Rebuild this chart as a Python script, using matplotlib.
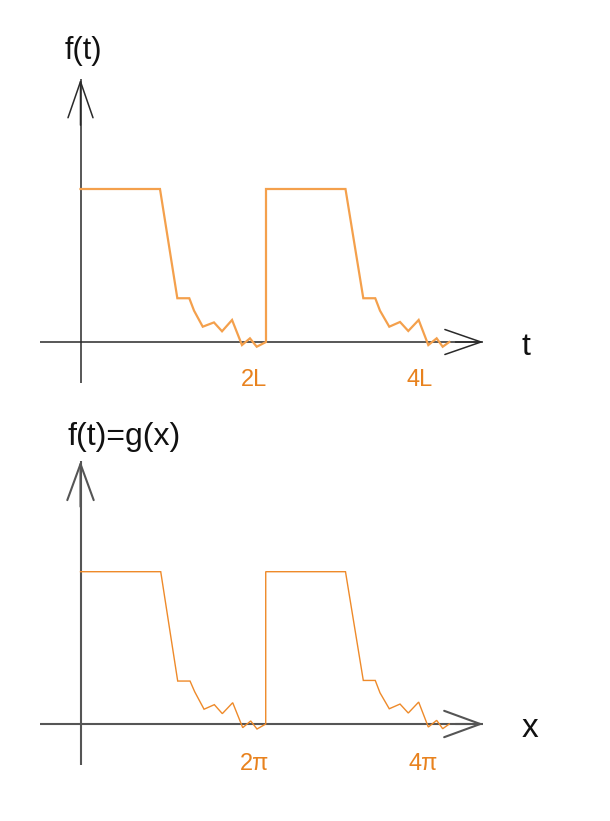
import matplotlib
matplotlib.use("Agg")
import matplotlib.pyplot as plt

# ---- data (x in units of L (top) / pi (bottom), y normalised to pulse height) ----
t_values = [0.0, 0.857, 1.044, 1.173, 1.224, 1.318, 1.439, 1.526, 1.634, 1.741,
            1.827, 1.900, 2.0, 2.0, 2.857, 3.049, 3.178, 3.229, 3.329, 3.445,
            3.534, 3.646, 3.750, 3.840, 3.905, 3.976]
f_values = [1.0, 1.0, 0.286, 0.286, 0.205, 0.100, 0.128, 0.070, 0.144, -0.020,
            0.024, -0.031, 0.0, 1.0, 1.0, 0.286, 0.286, 0.205, 0.100, 0.131,
            0.072, 0.144, -0.020, 0.024, -0.031, 0.0]

x_values = [0.0, 0.865, 1.048, 1.181, 1.231, 1.332, 1.443, 1.529, 1.641, 1.749,
            1.835, 1.903, 1.997, 1.997, 2.857, 3.049, 3.178, 3.229, 3.329, 3.445,
            3.534, 3.646, 3.750, 3.840, 3.905, 3.976]
g_values = [1.0, 1.0, 0.282, 0.282, 0.212, 0.097, 0.127, 0.068, 0.140, -0.024,
            0.020, -0.033, 0.0, 1.0, 1.0, 0.286, 0.286, 0.205, 0.100, 0.131,
            0.072, 0.144, -0.020, 0.024, -0.031, 0.0]

top_tick_pos = [1.87, 3.66]
top_tick_labels = ["2L", "4L"]
bot_tick_pos = [1.88, 3.69]
bot_tick_labels = ["2π", "4π"]

top_ylabel = "f(t)"
top_xlabel = "t"
bot_ylabel = "f(t)=g(x)"
bot_xlabel = "x"

plt.rcParams['font.family'] = ['Liberation Sans', 'DejaVu Sans']

W, H = 610, 821
fig = plt.figure(figsize=(W / 100, H / 100), dpi=100)

PX_X = 92.75   # pixels per x unit
X0 = 80.5      # pixel of x = 0
XLIM = (-X0 / PX_X, (W - X0) / PX_X)


def make_panel(y_top_px, y_bot_px, zero_px, px_y):
    ax = fig.add_axes([0, 1 - y_bot_px / H, 1, (y_bot_px - y_top_px) / H])
    ax.set_xlim(*XLIM)
    ax.set_ylim((zero_px - y_bot_px) / px_y, (zero_px - y_top_px) / px_y)
    ax.axis('off')
    return ax


def draw_axes(ax, color, lw, xmin, xmax, ymin, ymax, hl, hw):
    ax.plot([xmin, xmax], [0, 0], color=color, lw=lw, solid_capstyle='butt')
    ax.plot([0, 0], [ymin, ymax], color=color, lw=lw, solid_capstyle='butt')
    style = f"->,head_length={hl},head_width={hw}"
    ax.annotate("", xy=(xmax, 0), xytext=(xmax - 0.3, 0),
                arrowprops=dict(arrowstyle=style, color=color, lw=lw,
                                mutation_scale=1, shrinkA=0, shrinkB=0))
    ax.annotate("", xy=(0, ymax), xytext=(0, ymax - 0.3),
                arrowprops=dict(arrowstyle=style, color=color, lw=lw,
                                mutation_scale=1, shrinkA=0, shrinkB=0))


# ---------------- top panel ----------------
ax1 = make_panel(0, 410, 342, 153)
draw_axes(ax1, '#2a2a2a', 1.1, -0.437, 4.343, -0.268, 1.717, 26, 9)
ax1.plot(t_values, f_values, color='#F4A04C', lw=1.6, solid_joinstyle='miter')
ax1.text(0.027, 1.90, top_ylabel, fontsize=22, ha='center', va='center', color='#111111')
ax1.text(4.80, -0.03, top_xlabel, fontsize=23, ha='center', va='center', color='#111111')
for p, lab in zip(top_tick_pos, top_tick_labels):
    ax1.text(p, -0.25, lab, fontsize=17, ha='center', va='center', color='#E8821E')

# ---------------- bottom panel ----------------
ax2 = make_panel(410, 821, 724, 152.3)
draw_axes(ax2, '#555555', 1.5, -0.437, 4.343, -0.269, 1.727, 26, 9.5)
ax2.plot(x_values, g_values, color='#EE8A2A', lw=1.0, solid_joinstyle='miter')
ax2.text(0.469, 1.885, bot_ylabel, fontsize=23, ha='center', va='center', color='#111111')
ax2.text(4.85, -0.03, bot_xlabel, fontsize=24, ha='center', va='center', color='#111111')
for p, lab in zip(bot_tick_pos, bot_tick_labels):
    ax2.text(p, -0.26, lab, fontsize=17, ha='center', va='center', color='#E8821E')

fig.savefig("out.png", dpi=100, facecolor='white')
